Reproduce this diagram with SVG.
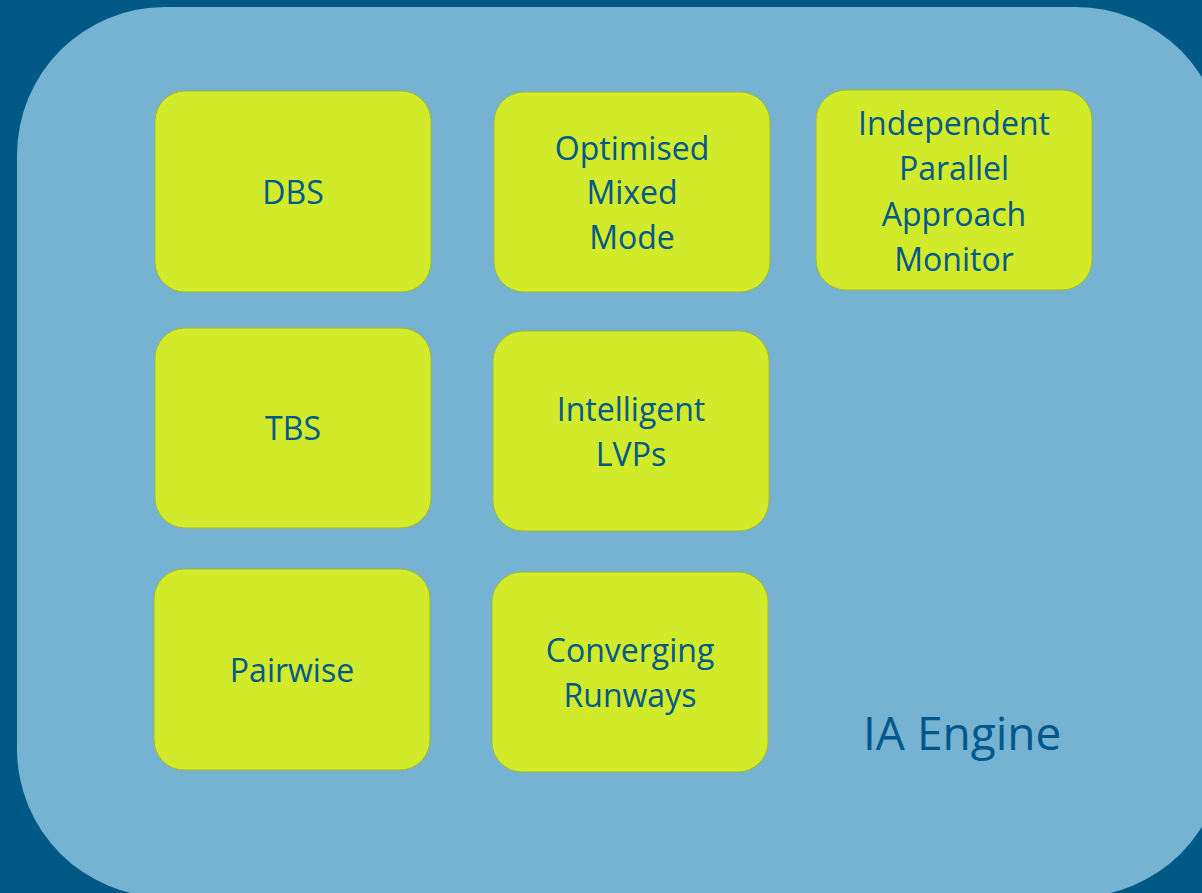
<svg xmlns="http://www.w3.org/2000/svg" width="1202" height="893" viewBox="0 0 1202 893">
  <style>
    .panel { fill: #76b2d1; }
    .box { fill: #d1ea29; stroke: #a3b92c; stroke-width: 1; }
    .lbl { font-family: "Open Sans", "Noto Sans", "DejaVu Sans", sans-serif; font-size: 32px; fill: #00588a; text-anchor: middle; }
    .title { font-family: "Open Sans", "Noto Sans", "DejaVu Sans", sans-serif; font-size: 46px; fill: #00588a; }
  </style>
  <!-- backdrop and engine panel -->
  <rect x="0" y="0" width="1202" height="893" fill="#005885"/>
  <rect class="panel" x="17" y="7" width="1207" height="890" rx="148" ry="148"/>

  <g id="dbs">
    <rect class="box" x="155" y="91" width="276" height="201" rx="30"/>
    <text class="lbl" x="293" y="204">DBS</text>
  </g>
  <g id="omm">
    <rect class="box" x="494" y="92" width="276" height="200" rx="30"/>
    <text class="lbl" x="632" y="160">Optimised</text>
    <text class="lbl" x="632" y="204">Mixed</text>
    <text class="lbl" x="632" y="249">Mode</text>
  </g>
  <g id="ipam">
    <rect class="box" x="816" y="90" width="276" height="200" rx="30"/>
    <text class="lbl" x="954" y="135">Independent</text>
    <text class="lbl" x="954" y="180">Parallel</text>
    <text class="lbl" x="954" y="226">Approach</text>
    <text class="lbl" x="954" y="271">Monitor</text>
  </g>
  <g id="tbs">
    <rect class="box" x="155" y="328" width="276" height="200" rx="30"/>
    <text class="lbl" x="293" y="440">TBS</text>
  </g>
  <g id="lvps">
    <rect class="box" x="493" y="331" width="276" height="200" rx="30"/>
    <text class="lbl" x="631" y="421">Intelligent</text>
    <text class="lbl" x="631" y="466">LVPs</text>
  </g>
  <g id="pairwise">
    <rect class="box" x="154" y="569" width="276" height="201" rx="30"/>
    <text class="lbl" x="292" y="682">Pairwise</text>
  </g>
  <g id="converging">
    <rect class="box" x="492" y="572" width="276" height="200" rx="30"/>
    <text class="lbl" x="630" y="662">Converging</text>
    <text class="lbl" x="630" y="707">Runways</text>
  </g>
  <g id="ia-engine">
    <text class="title" x="863" y="750">IA Engine</text>
  </g>
  <g id="connectors"></g>
</svg>
